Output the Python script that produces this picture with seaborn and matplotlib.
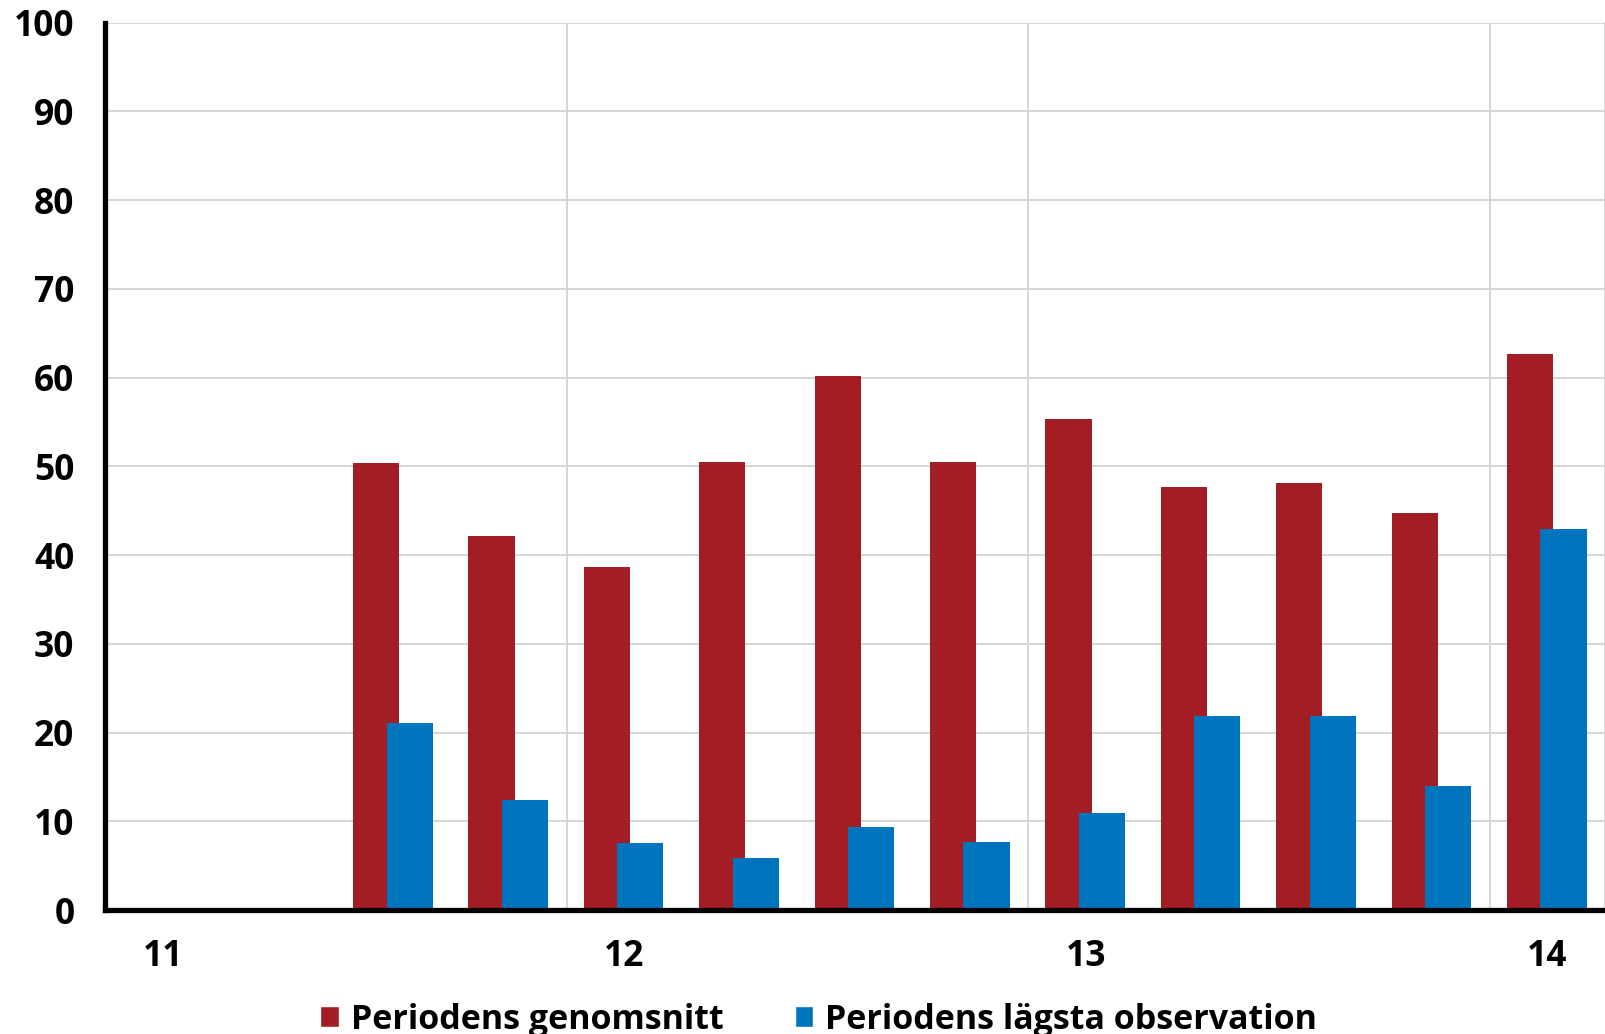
import numpy as np
import pandas as pd
import matplotlib.pyplot as plt
from matplotlib.patches import Patch
import seaborn as sns

# --- data (quarters 2011Q1 - 2014Q1) ---
quarters = ['11Q1', '11Q2', '11Q3', '11Q4',
            '12Q1', '12Q2', '12Q3', '12Q4',
            '13Q1', '13Q2', '13Q3', '13Q4',
            '14Q1']
genomsnitt = [np.nan, np.nan, 50.4, 42.2, 38.6, 50.5, 60.2, 50.5, 55.3, 47.7, 48.1, 44.7, 62.6]
lagsta = [np.nan, np.nan, 21.1, 12.4, 7.6, 5.9, 9.3, 7.7, 10.9, 21.9, 21.9, 14.0, 42.9]
year_labels = ['11', '12', '13', '14']
series_labels = ['Periodens genomsnitt', 'Periodens lägsta observation']

RED = '#A31D24'
BLUE = '#0075BE'
GRID = '#D3D3D3'

df = pd.DataFrame({'kvartal': quarters, 'genomsnitt': genomsnitt, 'lagsta': lagsta})

sns.set_style('white')
plt.rcParams['font.family'] = ['Open Sans', 'DejaVu Sans']
plt.rcParams['font.weight'] = 'bold'
plt.rcParams['text.color'] = 'black'
plt.rcParams['xtick.color'] = 'black'
plt.rcParams['ytick.color'] = 'black'

fig = plt.figure(figsize=(16.05, 10.34), dpi=100)
ax = fig.add_axes([0.0654, 0.1199, 0.9346, 0.8583])

# two overlapping bar series, blue drawn on top of red
sns.barplot(data=df, x='kvartal', y='genomsnitt', order=quarters, color=RED,
            width=0.4, saturation=1, ax=ax)
n_red = len(ax.patches)
sns.barplot(data=df, x='kvartal', y='lagsta', order=quarters, color=BLUE,
            width=0.4, saturation=1, ax=ax)
for i, p in enumerate(ax.patches):
    p.set_x(p.get_x() + (-0.15 if i < n_red else 0.14))
    p.set_linewidth(0)

ax.set_xlim(-0.5, len(quarters) - 0.5)
ax.set_ylim(0, 100)
ax.set_xlabel('')
ax.set_ylabel('')

# --- ticks ---
ax.set_yticks(np.arange(0, 101, 10))
ax.tick_params(axis='y', direction='in', length=9, width=3.5, color='black',
               labelcolor='black', labelsize=25.5, pad=22)
ax.set_xticks([0, 4, 8, 12])
ax.set_xticklabels(year_labels)
ax.set_xticks([3.5, 7.5, 11.5], minor=True)
ax.tick_params(axis='x', which='major', length=0, labelsize=25.5, labelcolor='black', pad=21)
ax.tick_params(axis='x', which='minor', direction='in', length=9, width=3.5, color='black')

# --- grid ---
ax.set_axisbelow(True)
ax.yaxis.grid(True, color=GRID, lw=1.3)
ax.xaxis.grid(True, which='minor', color=GRID, lw=1.3)
ax.xaxis.grid(False, which='major')

# --- spines ---
for side in ['left', 'bottom']:
    ax.spines[side].set_color('black')
    ax.spines[side].set_linewidth(3.8)
ax.spines['top'].set_visible(False)
ax.spines['right'].set_color(GRID)
ax.spines['right'].set_linewidth(1.3)

# --- legend ---
handles = [Patch(facecolor=RED, label=series_labels[0]),
           Patch(facecolor=BLUE, label=series_labels[1])]
fig.legend(handles=handles, loc='center', bbox_to_anchor=(0.51, 0.014), ncol=2,
           frameon=False, fontsize=24.5, handlelength=0.55, handleheight=0.55,
           handletextpad=0.35, columnspacing=2.1, labelcolor='black')

fig.savefig('out.png', dpi=100)
